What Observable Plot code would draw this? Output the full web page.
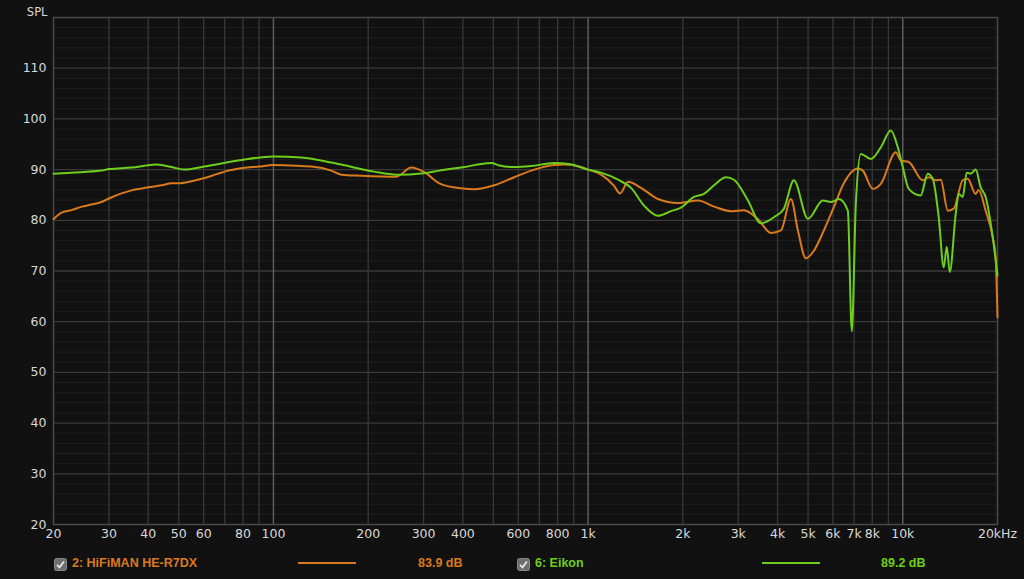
<!DOCTYPE html>
<html>
<head>
<meta charset="utf-8">
<script src="https://cdn.jsdelivr.net/npm/d3@7"></script>
<script src="https://cdn.jsdelivr.net/npm/@observablehq/plot@0.6"></script>
<style>
  html, body { margin: 0; padding: 0; background: #111111; }
  #wrap { position: relative; width: 1024px; height: 579px; overflow: hidden; background: #111111; font-family: "DejaVu Sans", sans-serif; }
  #chart { position: absolute; left: 0; top: 0; }
  .lg { position: absolute; top: 555px; height: 16px; font-family: "Liberation Sans", Arial, sans-serif; font-weight: bold; font-size: 12.5px; line-height: 16px; white-space: nowrap; }
  .box { position: absolute; top: 556px; width: 13px; height: 13px; }
  .sw { position: absolute; top: 562px; height: 2px; }
</style>
</head>
<body>
<div id="wrap">
  <div id="chart"></div>
</div>
<script>
// ---- Data ----
const seriesNames = ["2: HiFiMAN HE-R7DX", "6: Eikon"];
const seriesColors = ["#d97a1d", "#6dcf1b"];
const seriesLevels = ["83.9 dB", "89.2 dB"];

const freqR7DX = [20, 21.2, 22.8, 24.6, 26.4, 28.4, 30, 32.9, 35.4, 40, 44.1, 47.5, 50, 54.9, 60, 66, 70, 80, 90, 100,
  114, 132, 152.8, 164.4, 190, 245.8, 274, 301.6, 336.5, 395, 434.5, 503, 582, 674, 780, 839, 950, 1000,
  1100, 1209, 1263, 1340, 1473, 1668, 1931, 2235, 2512, 2844, 3128, 3465, 3811, 4100, 4410, 4642, 4921, 5218,
  5614, 6039, 6496, 7197, 7464, 8032, 8517, 9502, 9856, 10447, 11575, 12090, 12729, 13203, 13899, 14520,
  15506, 16082, 17048, 17426, 18340, 19310, 19732, 20000];
const splR7DX = [80.2, 81.5, 82.0, 82.7, 83.1, 83.6, 84.3, 85.3, 85.9, 86.5, 86.9, 87.3, 87.3, 87.7, 88.3, 89.1, 89.6, 90.3, 90.6, 90.9,
  90.8, 90.6, 89.8, 89.0, 88.8, 88.6, 90.4, 89.5, 87.3, 86.3, 86.1, 86.9, 88.5, 90.0, 90.9, 91.0, 90.5, 90.0,
  89.0, 86.8, 85.3, 87.6, 86.4, 84.2, 83.4, 83.9, 82.7, 81.8, 82.0, 80.2, 77.5, 78.0, 84.2, 78.0, 72.5, 74.0,
  78.0, 82.6, 87.3, 90.2, 89.8, 86.2, 87.2, 93.4, 91.8, 91.5, 87.9, 88.5, 87.9, 88.0, 81.9, 82.3,
  87.9, 88.2, 85.2, 86.0, 81.9, 76.7, 72.7, 60.9];

const freqEikon = [20, 22.8, 28.4, 30, 35.4, 42.5, 47.5, 51.8, 60.4, 79.2, 100, 122.7, 152.8, 164, 209, 246, 300,
  336, 395, 492, 523, 582, 659, 780, 870, 1000, 1100, 1245, 1369, 1506, 1668, 1834, 1973, 2170, 2335, 2512,
  2743, 2908, 3221, 3541, 3895, 4191, 4508, 4994, 5572, 5907, 6263, 6689, 6887, 7094, 7356, 7914, 8517, 9161,
  9641, 10000, 10447, 11405, 12003, 12450, 13010, 13495, 13795, 14102, 14734, 15059, 15506, 15966, 16438,
  17048, 17681, 18340, 19310, 20000];
const splEikon = [89.2, 89.4, 89.8, 90.1, 90.4, 91.0, 90.5, 90.0, 90.6, 91.9, 92.6, 92.4, 91.4, 91.0, 89.6, 89.0, 89.3,
  89.8, 90.4, 91.3, 90.8, 90.5, 90.7, 91.3, 91.1, 90.0, 89.4, 88.0, 86.4, 82.9, 80.9, 81.8, 82.5, 84.6, 85.2, 86.9,
  88.5, 88.0, 83.9, 79.4, 80.6, 82.3, 87.9, 80.3, 83.9, 83.6, 84.2, 81.9, 58.1, 83.3, 93.1, 92.1, 94.4, 97.7,
  94.4, 90.5, 86.2, 84.9, 89.2, 88.2, 80.6, 70.7, 74.8, 69.8, 81.3, 85.2, 84.6, 89.4, 89.2,
  90.0, 86.5, 84.6, 76.7, 69.1];

const xTickValues = [20, 30, 40, 50, 60, 80, 100, 200, 300, 400, 600, 800, 1000, 2000, 3000, 4000, 5000, 6000, 7000, 8000, 10000, 20000];
const xTickLabels = ["20", "30", "40", "50", "60", "80", "100", "200", "300", "400", "600", "800", "1k", "2k", "3k", "4k", "5k", "6k", "7k", "8k", "10k", "20kHz"];
const yTickValues = [20, 30, 40, 50, 60, 70, 80, 90, 100, 110];

// grid positions
const xMinorGrid = [30, 40, 50, 60, 70, 80, 90, 200, 300, 400, 500, 600, 700, 800, 900,
  2000, 3000, 4000, 5000, 6000, 7000, 8000, 9000];
const xMajorGrid = [100, 1000, 10000];
const yMajorGrid = [30, 40, 50, 60, 70, 80, 90, 100, 110];
const ySubGrid = d3.range(22, 120, 2).filter(v => v % 10 !== 0);

const r7dx = freqR7DX.map((f, i) => ({f, spl: splR7DX[i]}));
const eikon = freqEikon.map((f, i) => ({f, spl: splEikon[i]}));
const xTicks = xTickValues.map((v, i) => ({v, label: xTickLabels[i]}));

const textColor = "#d8d8d8";
const chart = Plot.plot({
  width: 1024,
  height: 550,
  marginLeft: 53,
  marginRight: 27,
  marginTop: 17,
  marginBottom: 26,
  style: {background: "#111111", color: textColor, fontFamily: "DejaVu Sans, sans-serif", fontSize: "12.5px"},
  x: {type: "log", domain: [20, 20000], axis: null},
  y: {domain: [20, 120], axis: null},
  marks: [
    Plot.ruleY(ySubGrid, {stroke: "#1f1f1f", strokeWidth: 1}),
    Plot.ruleY(yMajorGrid, {stroke: "#3a3a3a", strokeWidth: 1.3}),
    Plot.ruleX(xMinorGrid, {stroke: "#383838", strokeWidth: 1.3}),
    Plot.ruleX(xMajorGrid, {stroke: "#5c5c5c", strokeWidth: 1.5}),
    Plot.frame({stroke: "#4a4a4a", strokeWidth: 1.5}),
    Plot.line(r7dx, {x: "f", y: "spl", stroke: seriesColors[0], strokeWidth: 2, curve: "monotone-x"}),
    Plot.line(eikon, {x: "f", y: "spl", stroke: seriesColors[1], strokeWidth: 2, curve: "monotone-x"}),
    Plot.text(xTicks, {x: "v", frameAnchor: "bottom", text: "label", dy: 13, fill: textColor, fontSize: 12.5}),
    Plot.text(yTickValues, {y: d => d, frameAnchor: "left", text: d => String(d), dx: -7, textAnchor: "end", fill: textColor, fontSize: 12.5}),
    Plot.text(["SPL"], {frameAnchor: "top-left", text: d => d, dx: -6, dy: -10, textAnchor: "end", fill: textColor, fontSize: 11.5})
  ]
});
document.getElementById("chart").appendChild(chart);

// ---- Legend (HTML) ----
const wrap = document.getElementById("wrap");
const legendPos = [
  {box: 54, name: 72, sw: 298, swW: 58, lvl: 418},
  {box: 517, name: 535, sw: 762, swW: 58, lvl: 881}
];
seriesNames.forEach((name, i) => {
  const p = legendPos[i];
  const box = document.createElement("div");
  box.className = "box";
  box.style.left = p.box + "px";
  box.innerHTML = '<svg width="13" height="13"><rect x="0.5" y="0.5" width="12" height="12" rx="2" fill="#6e6e6e" stroke="#8a8a8a"/><path d="M3 6.8 L5.5 9.3 L10 3.5" fill="none" stroke="#e8e8e8" stroke-width="1.8"/></svg>';
  wrap.appendChild(box);
  const t = document.createElement("div");
  t.className = "lg";
  t.style.left = p.name + "px";
  t.style.color = seriesColors[i];
  t.textContent = name;
  wrap.appendChild(t);
  const sw = document.createElement("div");
  sw.className = "sw";
  sw.style.left = p.sw + "px";
  sw.style.width = p.swW + "px";
  sw.style.background = seriesColors[i];
  wrap.appendChild(sw);
  const l = document.createElement("div");
  l.className = "lg";
  l.style.left = p.lvl + "px";
  l.style.color = seriesColors[i];
  l.textContent = seriesLevels[i];
  wrap.appendChild(l);
});
</script>
</body>
</html>
